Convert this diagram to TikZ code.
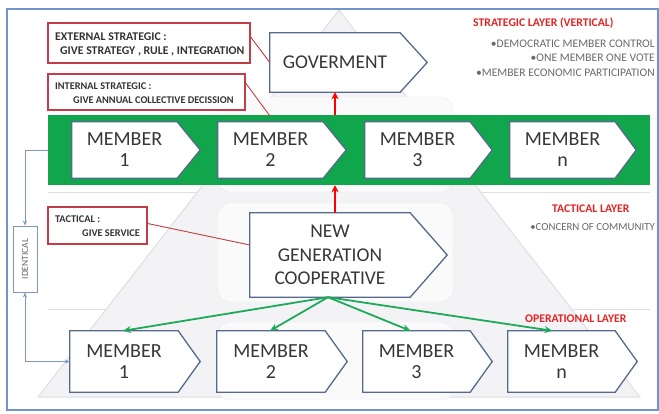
\documentclass[tikz,border=0pt]{standalone}
\usepackage{fontspec}
\setmainfont{Carlito}
\usetikzlibrary{arrows.meta}
\definecolor{bandgreen}{RGB}{18,166,76}
\definecolor{arrowgreen}{RGB}{30,170,90}
\definecolor{plateline}{RGB}{85,105,140}
\definecolor{calloutred}{RGB}{195,60,70}
\definecolor{labelred}{RGB}{228,35,35}
\definecolor{framecol}{RGB}{110,150,205}
\definecolor{txtgray}{RGB}{55,55,55}
\definecolor{bulletgray}{RGB}{105,105,105}
\definecolor{identcol}{RGB}{130,150,185}
\definecolor{faint}{RGB}{243,243,245}
\definecolor{faintline}{RGB}{220,223,230}
\newcommand\platedraw[2]{%
 \fill[white] (#1.north east) -- ([xshift=#2]#1.east) -- (#1.south east) -- cycle;
 \draw[plateborder] (#1.north west) -- (#1.north east) -- ([xshift=#2]#1.east) -- (#1.south east) -- (#1.south west) -- cycle;}
\begin{document}
\begin{tikzpicture}[x=1pt,y=-1pt,
 plate/.style={fill=white, inner sep=0pt, align=center, text=txtgray, font=\fontsize{20}{21}\selectfont},
 plateborder/.style={draw=plateline, line width=1.3pt, line join=miter},
 callout/.style={draw=calloutred, line width=1.3pt, fill=white, inner sep=0pt},
 callouttext/.style={inner sep=0pt, text=black!80, font=\bfseries\fontsize{10.3}{12}\selectfont},
 calloutline/.style={draw=calloutred, line width=0.9pt},
 redlabel/.style={inner sep=0pt, text=labelred, font=\bfseries\fontsize{11.7}{13}\selectfont},
 graytext/.style={inner sep=0pt, text=bulletgray, font=\fontsize{11.6}{13}\selectfont},
 redarrow/.style={draw=red, line width=2.2pt, -{Stealth[length=7pt,width=7pt]}},
 greenarrow/.style={draw=arrowgreen, line width=1.8pt, -{Stealth[length=8pt,width=7pt]}},
 identline/.style={draw=identcol, line width=0.8pt},
]
\useasboundingbox (0,0) rectangle (659,413);
% background decoration
\draw[faintline, line width=1pt] (48,192) -- (650,192);
\draw[faintline, line width=1pt] (48,309) -- (650,309);
\filldraw[fill=faint, draw=faintline, line width=1pt] (339,10) -- (640,397) -- (38,397) -- cycle;
\filldraw[fill=white!60!faint, draw=faintline!60, rounded corners=12pt] (218,97) rectangle (453,192);
\filldraw[fill=white!60!faint, draw=faintline!60, rounded corners=12pt] (218,203) rectangle (453,302);
\filldraw[fill=white!60!faint, draw=faintline!60, rounded corners=12pt] (218,322) rectangle (453,400);
% frame
\draw[framecol, line width=1.5pt] (7,9) rectangle (658,410);
% green band
\node[fill=bandgreen, inner sep=0pt, minimum width=602pt, minimum height=70pt] (band) at (349,150) {};
% plates
\node[plate, minimum width=105pt, minimum height=56pt] (m1) at (124.5,150) {MEMBER\\1};
\platedraw{m1}{23pt}
\node[plate, minimum width=105pt, minimum height=56pt] (m2) at (270.5,150) {MEMBER\\2};
\platedraw{m2}{23pt}
\node[plate, minimum width=105pt, minimum height=56pt] (m3) at (417.5,150) {MEMBER\\3};
\platedraw{m3}{22pt}
\node[plate, minimum width=105pt, minimum height=56pt] (mn) at (562.5,150) {MEMBER\\n};
\platedraw{mn}{21pt}
\node[plate, minimum width=108pt, minimum height=61pt] (b1) at (124,361.5) {MEMBER\\1};
\platedraw{b1}{22pt}
\node[plate, minimum width=108pt, minimum height=61pt] (b2) at (271,361.5) {MEMBER\\2};
\platedraw{b2}{22pt}
\node[plate, minimum width=107pt, minimum height=61pt] (b3) at (416.5,361.5) {MEMBER\\3};
\platedraw{b3}{22pt}
\node[plate, minimum width=107pt, minimum height=61pt] (bn) at (561.5,361.5) {MEMBER\\n};
\platedraw{bn}{22pt}
\node[plate, minimum width=130pt, minimum height=59pt, font=\fontsize{19.5}{21}\selectfont] (gov) at (335,62.5) {GOVERMENT};
\platedraw{gov}{27pt}
\node[plate, minimum width=160pt, minimum height=84pt, font=\fontsize{19.5}{23.5}\selectfont] (ngc) at (330,255) {NEW\\GENERATION\\COOPERATIVE};
\platedraw{ngc}{37pt}
% arrows
\draw[redarrow] (band.north -| gov.south) -- (gov.south);
\draw[redarrow] (ngc.north -| gov.south) -- (band.south -| gov.south);
\draw[greenarrow] ([xshift=-2pt]ngc.south) -- ([xshift=-1pt]b1.north);
\draw[greenarrow] ([xshift=-2pt]ngc.south) -- ([xshift=-1pt]b2.north);
\draw[greenarrow] ([xshift=-2pt]ngc.south) -- ([xshift=-6pt]b3.north);
\draw[greenarrow] ([xshift=-2pt]ngc.south) -- ([xshift=-9pt]bn.north);
% callouts
\node[callout, minimum width=202pt, minimum height=40pt] (ext) at (149,43) {};
\node[callouttext, anchor=base west, font=\bfseries\fontsize{11.8}{13}\selectfont] (extA) at (55,40.5) {EXTERNAL STRATEGIC :};
\node[callouttext, anchor=base west, font=\bfseries\fontsize{11.8}{13}\selectfont] (extB) at (60,54.5) {GIVE STRATEGY , RULE , INTEGRATION};
\node[callout, minimum width=197pt, minimum height=36pt] (int) at (146.5,92) {};
\node[callouttext, anchor=base west] (intA) at (55,89) {INTERNAL STRATEGIC :};
\node[callouttext, anchor=base west] (intB) at (73,103) {GIVE ANNUAL COLLECTIVE DECISSION};
\node[callout, minimum width=99pt, minimum height=37pt] (tac) at (97.5,225.5) {};
\node[callouttext, anchor=base west] (tacA) at (55,222) {TACTICAL :};
\node[callouttext, anchor=base west] (tacB) at (82,236) {GIVE SERVICE};
\draw[calloutline] ([yshift=6pt]ext.east) -- (gov.west);
\draw[calloutline] ([yshift=9pt]int.east) -- ([yshift=-1pt]band.north -| gov.west);
\draw[calloutline] ([yshift=2pt]tac.east) -- ([yshift=10pt]ngc.west);
% identical
\node[draw=identcol, line width=0.8pt, fill=white, rotate=90, minimum width=66pt, minimum height=24pt, inner sep=0pt, text=bulletgray, font=\fontsize{9.5}{11}\selectfont] (ident) at (25,259) {IDENTICAL};
\draw[identline, -{Stealth[length=5pt,width=4pt]}] (band.west) -| (ident.east);
\draw[identline, {Stealth[length=5pt,width=4pt]}-{Stealth[length=5pt,width=4pt]}] (ident.west) |- (b1.west);
% layer labels
\node[redlabel, anchor=base west] (lay1) at (473,26) {STRATEGIC LAYER (VERTICAL)};
\node[graytext, anchor=base east] (s1) at (655,47) {•DEMOCRATIC MEMBER CONTROL};
\node[graytext, anchor=base east] (s2) at (655,61.5) {•ONE MEMBER ONE VOTE};
\node[graytext, anchor=base east] (s3) at (655,76) {•MEMBER ECONOMIC PARTICIPATION};
\node[redlabel, anchor=base west] (lay2) at (552,212) {TACTICAL LAYER};
\node[graytext, anchor=base east, font=\fontsize{10.8}{13}\selectfont] (t1) at (655,230) {•CONCERN OF COMMUNITY};
\node[redlabel, anchor=base west] (lay3) at (525,322) {OPERATIONAL LAYER};
\end{tikzpicture}
\end{document}
